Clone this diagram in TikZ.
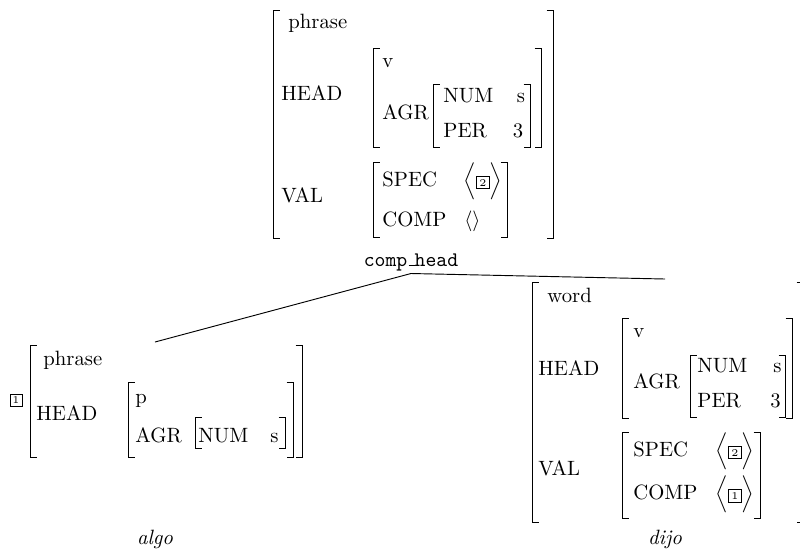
\documentclass[tikz,border=0pt]{standalone}
\tikzset{
  brk/.style={line width=0.45pt},
  lbl/.style={anchor=base west, inner sep=0pt},
  tagbox/.style={draw, line width=0.4pt, inner sep=1.2pt, font=\tiny},
  leaf/.style={anchor=base, inner sep=0pt, font=\itshape},
  edge/.style={line width=0.45pt},
}
% a pair of square brackets: left x, right x, top y, bottom y
\newcommand\avmbrackets[4]{%
  \draw[brk] (#1+6.5,#3) -- (#1,#3) -- (#1,#4) -- (#1+6.5,#4);
  \draw[brk] (#2-6.5,#3) -- (#2,#3) -- (#2,#4) -- (#2-6.5,#4);
}
% boxed structure-sharing tag
\newcommand\boxtag[1]{{\fboxsep=1.2pt\fboxrule=0.4pt\fbox{\tiny #1}}}
% underscore drawn as a rule on the baseline
\newcommand\ulrule{\leavevmode\kern.06em\vbox{\hrule width.3em}}

\begin{document}
\begin{tikzpicture}[x=0.48309pt, y=-0.48309pt]
\useasboundingbox (0,0) rectangle (800,556);

% ---------- mother: phrase ----------
\avmbrackets{273}{553}{10}{238}
\avmbrackets{373}{541}{48}{147}
\avmbrackets{433}{530}{84}{147}
\avmbrackets{373}{507}{162}{237}
\node[lbl] (m-type) at (288,28) {phrase};
\node[lbl] (m-head) at (281,100) {HEAD};
\node[lbl] (m-v)    at (382,67) {v};
\node[lbl] (m-agr)  at (382,119) {AGR};
\node[lbl] (m-num)  at (443,102) {NUM};
\node[lbl] (m-s)    at (516.5,102) {s};
\node[lbl] (m-per)  at (443,137) {PER};
\node[lbl] (m-3)    at (512.5,137) {3};
\node[lbl] (m-val)  at (281,202) {VAL};
\node[lbl] (m-spec) at (382,186) {SPEC};
\node[lbl] (m-specv) at (463,186) {$\Bigl\langle\boxtag{2}\Bigr\rangle$};
\node[lbl] (m-comp) at (382,226) {COMP};
\node[lbl] (m-compv) at (464,226) {$\langle\rangle$};

% rule label
\node[anchor=base, inner sep=0pt, inner ysep=1.2pt, font=\ttfamily] (comphead) at (411,266) {comp\ulrule head};

% ---------- left daughter: algo ----------
\node[tagbox] (l-tag) at (16,400) {1};
\avmbrackets{30}{302}{345}{457}
\avmbrackets{128}{293}{382}{457}
\avmbrackets{195}{285}{417}{448}
\node[lbl] (l-type) at (43,365) {phrase};
\node[lbl] (l-head) at (36,420) {HEAD};
\node[lbl] (l-p)    at (135,403) {p};
\node[lbl] (l-agr)  at (135,442) {AGR};
\node[lbl] (l-num)  at (198,442) {NUM};
\node[lbl] (l-s)    at (270,442) {s};
\node[leaf] (algo) at (155,544) {algo};
\coordinate (lroof) at (155,342);

% ---------- right daughter: dijo ----------
\avmbrackets{532}{803}{282}{522}
\avmbrackets{622}{792}{318}{418}
\avmbrackets{690}{785}{355}{417}
\avmbrackets{622}{760}{432}{518}
\node[lbl] (r-type) at (547,302) {word};
\node[lbl] (r-head) at (538,375) {HEAD};
\node[lbl] (r-v)    at (633,337) {v};
\node[lbl] (r-agr)  at (633,388) {AGR};
\node[lbl] (r-num)  at (697,372) {NUM};
\node[lbl] (r-s)    at (773,372) {s};
\node[lbl] (r-per)  at (697,407) {PER};
\node[lbl] (r-3)    at (770,407) {3};
\node[lbl] (r-val)  at (538,475) {VAL};
\node[lbl] (r-spec) at (633,456) {SPEC};
\node[lbl] (r-specv) at (715,456) {$\Bigl\langle\boxtag{2}\Bigr\rangle$};
\node[lbl] (r-comp) at (633,499) {COMP};
\node[lbl] (r-compv) at (715,499) {$\Bigl\langle\boxtag{1}\Bigr\rangle$};
\node[leaf] (dijo) at (665,544) {dijo};
\coordinate (rroof) at (665,279);

% ---------- branches ----------
\draw[edge] (comphead.south) -- (lroof);
\draw[edge] (comphead.south) -- (rroof);
\end{tikzpicture}
\end{document}
